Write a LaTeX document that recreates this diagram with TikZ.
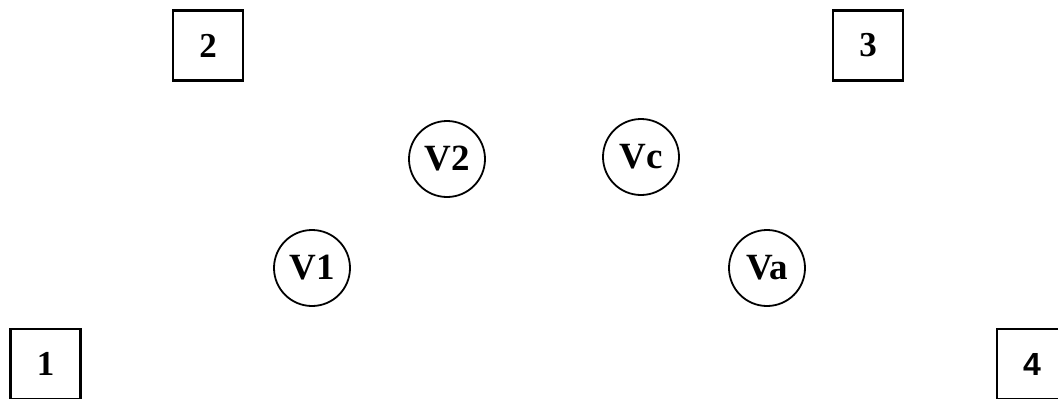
\documentclass[tikz,border=0pt]{standalone}
\usepackage{fontspec}
\setmainfont{Liberation Serif}
\newfontfamily\labelsans{Liberation Sans}
\tikzset{
  numbox/.style={draw, line width=2.2pt, minimum width=70pt, minimum height=70pt, inner sep=0pt,
    font=\fontsize{35}{35}\selectfont\bfseries},
  vnode/.style={draw, circle, line width=1.8pt, minimum size=76pt, inner sep=0pt,
    font=\fontsize{37}{37}\selectfont\bfseries}
}
\begin{document}
\begin{tikzpicture}[x=1pt,y=-1pt]
  \useasboundingbox (0,0) rectangle (1058,399);
  \node[numbox] (b1) at (45.5,364) {1};
  \node[numbox] (b2) at (208,45.5) {2};
  \node[numbox] (b3) at (868,45.5) {3};
  \node[numbox, font=\fontsize{32}{32}\selectfont\bfseries\labelsans] (b4) at (1032,364) {4};
  \node[vnode] (v1) at (312,268) {V1};
  \node[vnode] (v2) at (447,159) {V2};
  \node[vnode] (vc) at (641,157) {Vc};
  \node[vnode] (va) at (767,268) {Va};
\end{tikzpicture}
\end{document}
